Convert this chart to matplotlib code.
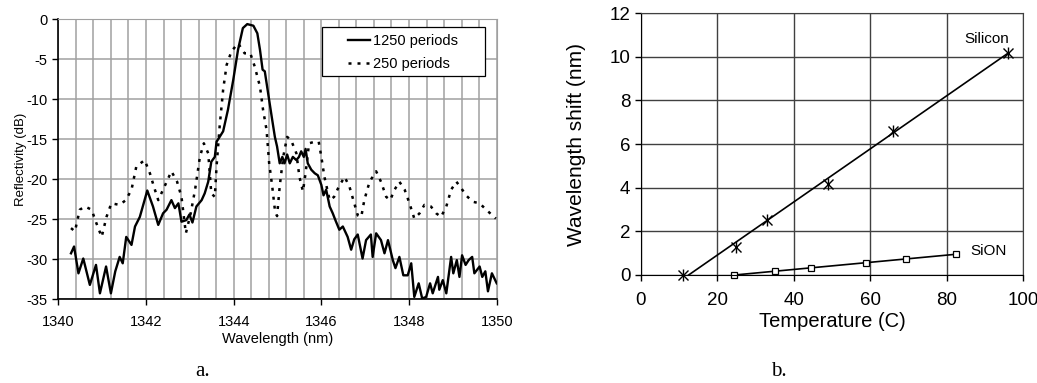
import numpy as np
import matplotlib
matplotlib.use("Agg")
import matplotlib.pyplot as plt
from matplotlib.ticker import MultipleLocator
from matplotlib.patches import Rectangle

plt.rcParams['font.family'] = ['Liberation Sans', 'DejaVu Sans']
plt.rcParams['axes.unicode_minus'] = False

# panel a: reflectivity spectra
wl_1250 = [1340.29, 1340.36, 1340.46, 1340.57, 1340.72, 1340.86, 1340.95, 1341.09, 1341.20, 1341.30,
           1341.40, 1341.47, 1341.55, 1341.67, 1341.75, 1341.86, 1342.03, 1342.16, 1342.28, 1342.39,
           1342.47, 1342.58, 1342.66, 1342.74, 1342.81, 1342.92, 1342.99, 1343.06, 1343.15, 1343.27,
           1343.34, 1343.42, 1343.49, 1343.57, 1343.61, 1343.68, 1343.76, 1343.87, 1343.99, 1344.10,
           1344.21, 1344.31, 1344.45, 1344.54, 1344.60, 1344.66, 1344.71, 1344.81, 1344.88, 1344.94,
           1344.99, 1345.05, 1345.11, 1345.16, 1345.22, 1345.28, 1345.35, 1345.43, 1345.49, 1345.54,
           1345.60, 1345.64, 1345.69, 1345.77, 1345.85, 1345.92, 1346.00, 1346.05, 1346.11, 1346.19,
           1346.26, 1346.32, 1346.41, 1346.49, 1346.60, 1346.68, 1346.75, 1346.83, 1346.94, 1347.02,
           1347.13, 1347.17, 1347.25, 1347.36, 1347.44, 1347.52, 1347.63, 1347.69, 1347.78, 1347.87,
           1347.97, 1348.05, 1348.12, 1348.22, 1348.30, 1348.39, 1348.48, 1348.54, 1348.66, 1348.69,
           1348.77, 1348.85, 1348.96, 1349.01, 1349.09, 1349.15, 1349.21, 1349.29, 1349.36, 1349.44,
           1349.49, 1349.61, 1349.67, 1349.74, 1349.80, 1349.89, 1350.0]
r_1250 = [-29.25, -28.4, -31.75, -29.9, -33.2, -30.7, -34.25, -30.9, -34.25, -31.5,
          -29.7, -30.5, -27.2, -28.2, -25.9, -24.7, -21.4, -23.4, -25.7, -24.25,
          -23.8, -22.6, -23.6, -23.0, -25.3, -25.1, -24.4, -25.4, -23.4, -22.6,
          -21.75, -20.3, -17.8, -17.2, -15.3, -14.7, -14.0, -11.3, -7.6, -3.8,
          -1.1, -0.6, -0.8, -1.75, -3.8, -6.3, -6.5, -10.1, -12.6, -14.7,
          -15.9, -18.0, -17.2, -18.0, -16.9, -18.0, -17.2, -17.6, -17.2, -16.5,
          -17.2, -16.2, -18.0, -18.8, -19.25, -19.5, -20.7, -22.0, -21.3, -23.4,
          -24.25, -25.1, -26.3, -25.9, -27.2, -28.8, -27.5, -26.9, -29.9, -27.6,
          -26.9, -29.7, -26.75, -27.6, -29.25, -27.6, -30.1, -31.1, -29.7, -32.0,
          -32.0, -30.5, -34.7, -33.0, -34.9, -34.7, -33.0, -34.25, -32.2, -33.8,
          -32.6, -34.25, -29.7, -31.75, -30.1, -32.2, -29.5, -30.7, -30.1, -29.7,
          -31.75, -30.9, -32.2, -31.5, -34.0, -31.75, -33.0]

wl_250 = [1340.29, 1340.38, 1340.49, 1340.61, 1340.76, 1340.87, 1340.99, 1341.10, 1341.21, 1341.40,
          1341.54, 1341.67, 1341.78, 1341.97, 1342.09, 1342.18, 1342.28, 1342.39, 1342.58, 1342.71,
          1342.81, 1342.91, 1343.02, 1343.12, 1343.23, 1343.32, 1343.42, 1343.49, 1343.57, 1343.61,
          1343.68, 1343.76, 1343.84, 1343.95, 1344.10, 1344.25, 1344.38, 1344.48, 1344.60, 1344.67,
          1344.75, 1344.81, 1344.88, 1344.94, 1344.99, 1345.05, 1345.13, 1345.22, 1345.31, 1345.43,
          1345.50, 1345.58, 1345.64, 1345.72, 1345.85, 1345.94, 1346.00, 1346.07, 1346.19, 1346.29,
          1346.40, 1346.53, 1346.64, 1346.73, 1346.83, 1346.91, 1346.98, 1347.10, 1347.25, 1347.36,
          1347.48, 1347.57, 1347.67, 1347.78, 1347.90, 1348.01, 1348.12, 1348.24, 1348.35, 1348.50,
          1348.62, 1348.73, 1348.85, 1348.96, 1349.08, 1349.19, 1349.30, 1349.45, 1349.61, 1349.76,
          1349.98]
r_250 = [-26.1, -26.5, -23.8, -23.4, -23.8, -25.5, -27.2, -24.7, -23.0, -23.2,
         -22.6, -21.3, -18.4, -17.6, -19.25, -20.9, -22.6, -21.3, -19.0, -20.3,
         -22.2, -26.75, -24.25, -21.3, -17.2, -15.5, -16.75, -21.75, -22.2, -18.4,
         -13.4, -8.8, -5.7, -4.0, -3.0, -4.25, -4.25, -5.9, -8.4, -11.3,
         -13.8, -18.0, -20.9, -23.8, -24.6, -20.9, -17.2, -14.7, -15.1, -16.75,
         -19.7, -21.5, -19.25, -15.5, -15.3, -15.3, -17.2, -19.7, -22.6, -22.2,
         -20.9, -19.7, -20.9, -22.6, -24.5, -24.7, -22.6, -20.3, -19.0, -20.3,
         -22.2, -22.6, -21.3, -20.3, -21.3, -23.0, -24.9, -24.25, -23.2, -23.4,
         -24.25, -24.7, -23.4, -21.3, -20.3, -21.1, -22.0, -22.8, -23.0, -23.8,
         -24.9]

# panel b: thermal shift
si_temp = [11, 25, 33, 49, 66, 96]
si_shift = [0, 1.3, 2.5, 4.15, 6.6, 10.15]
si_fit_temp = [12.5, 96]
si_fit_shift = [0, 10.15]
sion_temp = [24.5, 35, 44.5, 59, 69.5, 82.5]
sion_shift = [0, 0.17, 0.32, 0.55, 0.75, 0.95]
sion_fit_temp = [24.5, 82.5]
sion_fit_shift = [0, 0.95]

fig = plt.figure(figsize=(10.37, 3.83), dpi=100)

# ---- panel a ----
ax1 = fig.add_axes([0.0562, 0.2185, 0.4228, 0.7311])
ax1.plot(wl_1250, r_1250, color='black', lw=1.7, label='1250 periods')
ax1.plot(wl_250, r_250, color='black', lw=1.8, linestyle=(0, (1.2, 2.4)), label='250 periods')
ax1.set_xlim(1340, 1350)
ax1.set_ylim(-35, 0)
ax1.xaxis.set_major_locator(MultipleLocator(2))
ax1.xaxis.set_minor_locator(MultipleLocator(0.4))
ax1.yaxis.set_major_locator(MultipleLocator(5))
ax1.grid(which='both', axis='x', color='#a0a0a0', lw=1.1)
ax1.grid(which='major', axis='y', color='#a0a0a0', lw=1.1)
ax1.set_axisbelow(True)
ax1.tick_params(axis='x', which='minor', length=0)
ax1.tick_params(axis='both', which='major', direction='out', length=4, labelsize=10.5, width=1)
ax1.tick_params(axis='x', which='major', pad=7.5)
for s in ['top', 'right']:
    ax1.spines[s].set_color('#a0a0a0')
for s in ['left', 'bottom']:
    ax1.spines[s].set_linewidth(1.2)
ax1.set_xlabel('Wavelength (nm)', fontsize=10.5, labelpad=2)
ax1.set_ylabel('Reflectivity (dB)', fontsize=9.5, labelpad=0)

# legend box drawn like the spreadsheet original (wide side padding)
ax1.add_patch(Rectangle((0.601, 0.7975), 0.372, 0.175, transform=ax1.transAxes,
                        facecolor='white', edgecolor='black', lw=0.9, zorder=4))
leg = ax1.legend(loc='upper left', bbox_to_anchor=(0.66, 0.946), fontsize=10.5, frameon=False,
                 handlelength=1.5, borderpad=0, borderaxespad=0, labelspacing=0.6,
                 handletextpad=0.25)
leg.set_zorder(5)

# ---- panel b ----
ax2 = fig.add_axes([0.618, 0.282, 0.3685, 0.684])
ax2.plot(si_fit_temp, si_fit_shift, color='black', lw=1.2)
ax2.plot(sion_fit_temp, sion_fit_shift, color='black', lw=1.2)
ax2.plot(si_temp, si_shift, linestyle='none', marker='x', ms=7, mew=1.0, color='black', clip_on=False)
ax2.plot(si_temp, si_shift, linestyle='none', marker='|', ms=8, mew=1.0, color='black', clip_on=False)
ax2.plot(sion_temp, sion_shift, linestyle='none', marker='s', ms=5, mew=0.9,
         mfc='white', mec='black', clip_on=False)
ax2.set_xlim(0, 100)
ax2.set_ylim(0, 12)
ax2.xaxis.set_major_locator(MultipleLocator(20))
ax2.yaxis.set_major_locator(MultipleLocator(2))
ax2.grid(True, color='#404040', lw=1.0)
ax2.set_axisbelow(True)
ax2.tick_params(axis='both', direction='out', length=4, labelsize=13.5, width=1)
ax2.tick_params(axis='x', pad=8.5)
for s in ['top', 'right']:
    ax2.spines[s].set_color('#404040')
ax2.set_xlabel('Temperature (C)', fontsize=14.5, labelpad=2)
ax2.set_ylabel('Wavelength shift (nm)', fontsize=15, labelpad=17)
ax2.text(90.4, 10.8, 'Silicon', fontsize=11, ha='center', va='center')
ax2.text(90.9, 1.11, 'SiON', fontsize=11, ha='center', va='center')

# panel captions
fig.text(203 / 1037, 1 - 372 / 383, 'a.', fontsize=15, family='Liberation Serif', ha='center', va='center')
fig.text(779 / 1037, 1 - 372 / 383, 'b.', fontsize=15, family='Liberation Serif', ha='center', va='center')

fig.savefig('out.png', dpi=100)
